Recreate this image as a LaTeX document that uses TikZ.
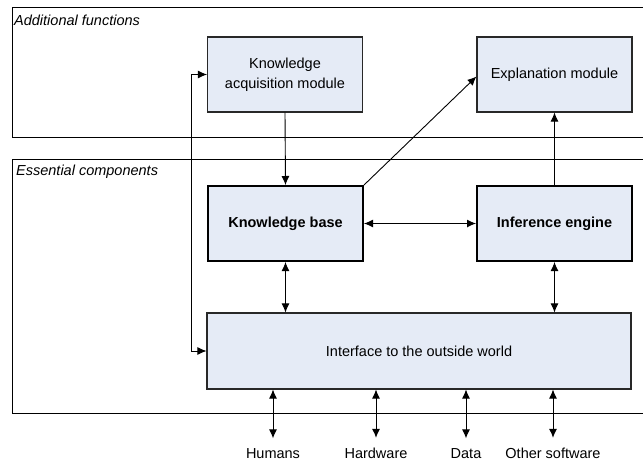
\documentclass[tikz,border=0pt]{standalone}
\usepackage{fontspec}
\setmainfont{Liberation Sans}
\usetikzlibrary{arrows.meta}
\definecolor{boxfill}{RGB}{229,235,246}
\definecolor{boxline}{RGB}{40,40,40}
\tikzset{
  txt/.style={font=\fontsize{14.5}{20}\selectfont},
  module/.style={txt, draw=boxline, line width=1.1pt, fill=boxfill, align=center,
    minimum width=155pt, minimum height=75pt, inner sep=0pt},
  core/.style={module, draw=black, line width=2pt, font=\fontsize{14.5}{20}\selectfont\bfseries},
  frame/.style={draw=black, line width=0.9pt},
  frametitle/.style={font=\fontsize{14.5}{18}\selectfont\itshape, anchor=west, inner sep=0pt},
  link/.style={draw=black, line width=0.9pt},
  tip/.style={-{Latex[length=9pt,width=8pt]}},
  tips/.style={{Latex[length=9pt,width=8pt]}-{Latex[length=9pt,width=8pt]}},
  outside/.style={txt, anchor=base, inner xsep=0pt, inner ysep=10pt}
}
\begin{document}
\begin{tikzpicture}[x=1pt, y=-1pt]
  \useasboundingbox (0,0) rectangle (643,461);

  % group frames, open to the right
  \draw[frame] (645,7) -- (12,7) -- (12,137.5) -- (645,137.5);
  \draw[frame] (645,159) -- (12,159) -- (12,413) -- (645,413);
  \node[frametitle] (addt) at (14,20) {Additional functions};
  \node[frametitle] (esst) at (16,172) {Essential components};

  % modules
  \node[module] (ka) at (285,74.5) {Knowledge\\acquisition module};
  \node[module] (ex) at (554.5,74.5) {Explanation module};
  \node[core] (kb) at (285.5,223.5) {Knowledge base};
  \node[core] (ie) at (554.5,223.5) {Inference engine};
  \node[module, minimum width=424pt, minimum height=76pt] (io) at (419,351)
    {Interface to the outside world};

  % external parties
  \node[outside] (hum) at (273,458.5) {Humans};
  \node[outside] (hw) at (376,458.5) {Hardware};
  \node[outside] (dat) at (466,458.5) {Data};
  \node[outside] (soft) at (553,458.5) {Other software};

  % connectors
  \draw[link, tips] (ka.west) -- ++(-16,0) |- (io.west);
  \draw[link, tip] (ka.south) -- (kb.north);
  \draw[link, tip] (kb.north east) -- ([yshift=-2pt]ex.west);
  \draw[link, tip] (ie.north) -- (ex.south);
  \draw[link, tips] (kb.east) -- (ie.west);
  \draw[link, tips] (kb.south) -- (kb.south |- io.north);
  \draw[link, tips] (ie.south) -- (ie.south |- io.north);
  \draw[link, tips] (hum.north |- io.south) -- (hum.north);
  \draw[link, tips] (hw.north |- io.south) -- (hw.north);
  \draw[link, tips] (dat.north |- io.south) -- (dat.north);
  \draw[link, tips] (soft.north |- io.south) -- (soft.north);
\end{tikzpicture}
\end{document}
